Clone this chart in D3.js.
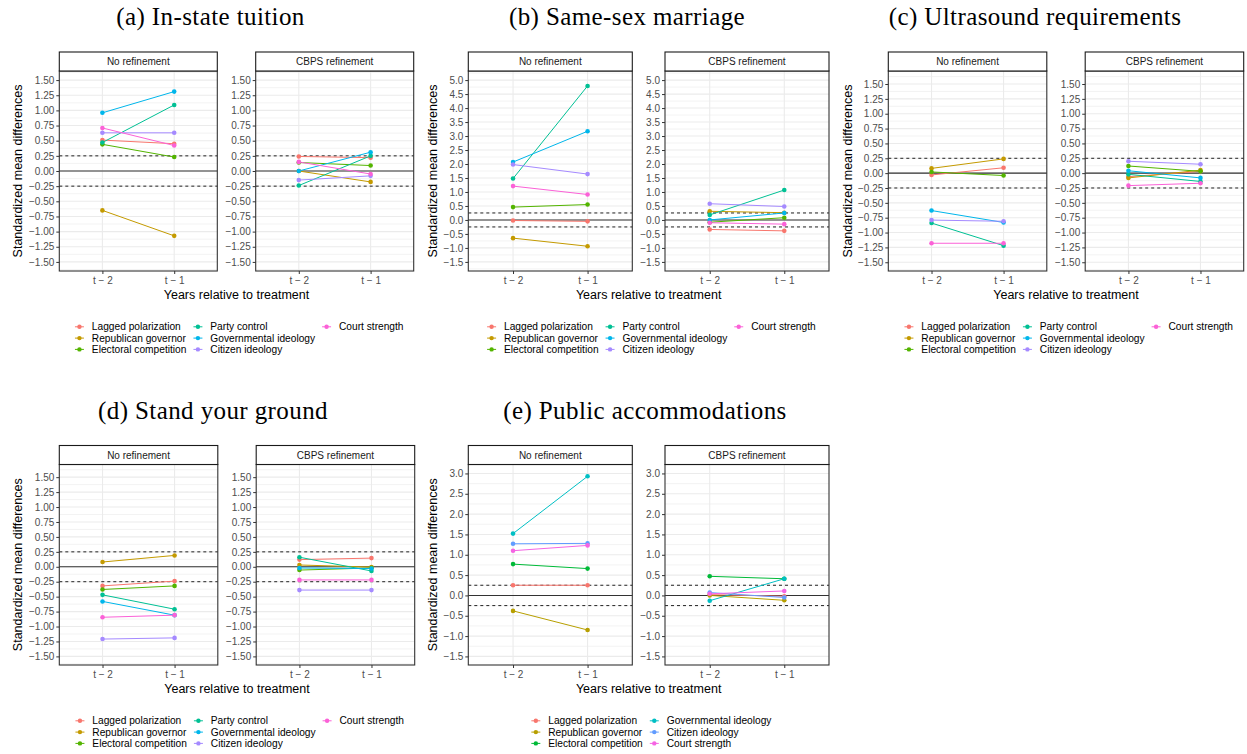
<!DOCTYPE html>
<html>
<head>
<meta charset="utf-8">
<script src="https://cdn.jsdelivr.net/npm/d3@7"></script>
<style>
  body { margin: 0; background: #fff; }
  svg { display: block; }
</style>
</head>
<body>
<svg id="fig" width="1247" height="754"></svg>
<script>
// ---- data -------------------------------------------------------------
const features7 = ["Lagged polarization", "Republican governor", "Electoral competition",
  "Party control", "Governmental ideology", "Citizen ideology", "Court strength"];
const features6 = ["Lagged polarization", "Republican governor", "Electoral competition",
  "Governmental ideology", "Citizen ideology", "Court strength"];
const colors7 = ["#F8766D", "#C49A00", "#53B400", "#00C094", "#00B6EB", "#A58AFF", "#FB61D7"];
const colors6 = ["#F8766D", "#B79F00", "#00BA38", "#00BFC4", "#619CFF", "#F564E3"];
const facetNames = ["No refinement", "CBPS refinement"];
const periods = ["t \u2212 2", "t \u2212 1"];

const ticksQuarter = [-1.5, -1.25, -1, -0.75, -0.5, -0.25, 0, 0.25, 0.5, 0.75, 1, 1.25, 1.5];
const ticksMarriage = [-1.5, -1, -0.5, 0, 0.5, 1, 1.5, 2, 2.5, 3, 3.5, 4, 4.5, 5];
const ticksAccommodations = [-1.5, -1, -0.5, 0, 0.5, 1, 1.5, 2, 2.5, 3];
const balanceBand = [-0.25, 0.25];

// each row: one covariate, values at [t − 2, t − 1]
const tuitionNone = [[0.51, 0.45], [-0.65, -1.07], [0.44, 0.23], [0.47, 1.09], [0.96, 1.31], [0.63, 0.63], [0.71, 0.42]];
const tuitionCbps = [[0.24, 0.22], [0.00, -0.18], [0.14, 0.09], [-0.24, 0.25], [0.00, 0.31], [-0.15, -0.08], [0.15, -0.05]];

const marriageNone = [[-0.02, -0.05], [-0.65, -0.94], [0.46, 0.55], [1.48, 4.79], [2.07, 3.17], [1.98, 1.64], [1.21, 0.91]];
const marriageCbps = [[-0.34, -0.39], [0.31, 0.26], [-0.08, 0.08], [0.18, 1.07], [0.00, 0.25], [0.58, 0.48], [-0.10, -0.15]];

const ultrasoundNone = [[-0.03, 0.09], [0.08, 0.24], [0.02, -0.04], [-0.84, -1.22], [-0.63, -0.83], [-0.79, -0.81], [-1.18, -1.18]];
const ultrasoundCbps = [[-0.06, 0.03], [-0.08, 0.05], [0.12, 0.03], [-0.02, -0.14], [0.04, -0.08], [0.20, 0.15], [-0.21, -0.17]];

const groundNone = [[-0.32, -0.24], [0.08, 0.19], [-0.38, -0.32], [-0.47, -0.71], [-0.58, -0.81], [-1.21, -1.19], [-0.845, -0.81]];
const groundCbps = [[0.12, 0.145], [0.03, -0.005], [-0.055, -0.02], [0.16, -0.07], [-0.02, -0.03], [-0.39, -0.39], [-0.22, -0.22]];

const accommodationsNone = [[0.25, 0.25], [-0.38, -0.85], [0.77, 0.66], [1.52, 2.93], [1.27, 1.28], [1.10, 1.23]];
const accommodationsCbps = [[0.02, -0.02], [0.00, -0.12], [0.47, 0.41], [-0.13, 0.41], [0.07, -0.05], [0.04, 0.11]];

// ---- layout -----------------------------------------------------------
const rowLayout = [
  { stripTop: 52, plotTop: 71, plotBottom: 271, titleY: 25 },
  { stripTop: 445.5, plotTop: 464.5, plotBottom: 665, titleY: 418.5 }
];

const subfigures = [
  { title: "(a) In-state tuition", titleX: 210.5, row: 0, left: 59.3, pw: 158, gap: 38.4, yTitleX: 22,
    domain: [-1.65, 1.65], ticks: ticksQuarter, digits: 2, feats: features7, colors: colors7,
    series: [tuitionNone, tuitionCbps] },
  { title: "(b) Same-sex marriage", titleX: 627, row: 0, left: 468.3, pw: 164, gap: 32.7, yTitleX: 437.3,
    domain: [-1.825, 5.325], ticks: ticksMarriage, digits: 1, feats: features7, colors: colors7,
    series: [marriageNone, marriageCbps] },
  { title: "(c) Ultrasound requirements", titleX: 1035, row: 0, left: 888.3, pw: 158.5, gap: 38.4, yTitleX: 852,
    domain: [-1.647, 1.719], ticks: ticksQuarter, digits: 2, feats: features7, colors: colors7,
    series: [ultrasoundNone, ultrasoundCbps] },
  { title: "(d) Stand your ground", titleX: 213, row: 1, left: 59.3, pw: 158.5, gap: 38.4, yTitleX: 22,
    domain: [-1.644, 1.712], ticks: ticksQuarter, digits: 2, feats: features7, colors: colors7,
    series: [groundNone, groundCbps] },
  { title: "(e) Public accommodations", titleX: 645, row: 1, left: 468.3, pw: 164, gap: 32.7, yTitleX: 437.3,
    domain: [-1.711, 3.22], ticks: ticksAccommodations, digits: 1, feats: features6, colors: colors6,
    series: [accommodationsNone, accommodationsCbps] }
];

const SANS = "'Liberation Sans', Arial, Helvetica, sans-serif";
const SERIF = "'Liberation Serif', 'Times New Roman', serif";
const fmtNum = digits => v => d3.format(`.${digits}f`)(v).replace("-", "\u2212");

const svg = d3.select("#fig");
svg.append("rect").attr("width", 1247).attr("height", 754).attr("fill", "#fff");

function measure(text, size) {
  const t = svg.append("text").attr("font-family", SANS).attr("font-size", size).text(text);
  const w = t.node().getComputedTextLength();
  t.remove();
  return w;
}

subfigures.forEach(sf => {
  const R = rowLayout[sf.row];
  const g = svg.append("g");

  // subfigure caption
  g.append("text")
    .attr("x", sf.titleX).attr("y", R.titleY)
    .attr("text-anchor", "middle")
    .attr("font-family", SERIF).attr("font-size", 25).attr("letter-spacing", 0.4).attr("fill", "#000")
    .text(sf.title);

  facetNames.forEach((facet, fi) => {
    const px = sf.left + fi * (sf.pw + sf.gap);
    const y = d3.scaleLinear().domain(sf.domain).range([R.plotBottom, R.plotTop]);
    const x = d3.scalePoint().domain(periods).range([px, px + sf.pw]).padding(0.6);
    const pg = g.append("g");

    // minor grid
    const step = sf.ticks[1] - sf.ticks[0];
    const minors = d3.range(sf.ticks[0] - step / 2, sf.ticks[sf.ticks.length - 1] + step, step)
      .filter(v => v > sf.domain[0] && v < sf.domain[1]);
    pg.selectAll(".minor").data(minors).join("line")
      .attr("x1", px).attr("x2", px + sf.pw)
      .attr("y1", d => y(d)).attr("y2", d => y(d))
      .attr("stroke", "#EBEBEB").attr("stroke-width", 0.6);
    // major grid
    pg.selectAll(".major").data(sf.ticks).join("line")
      .attr("x1", px).attr("x2", px + sf.pw)
      .attr("y1", d => y(d)).attr("y2", d => y(d))
      .attr("stroke", "#EBEBEB").attr("stroke-width", 1.1);
    pg.selectAll(".vmajor").data(periods).join("line")
      .attr("x1", d => x(d)).attr("x2", d => x(d))
      .attr("y1", R.plotTop).attr("y2", R.plotBottom)
      .attr("stroke", "#EBEBEB").attr("stroke-width", 1.1);

    // reference lines
    pg.selectAll(".band").data(balanceBand).join("line")
      .attr("x1", px).attr("x2", px + sf.pw)
      .attr("y1", d => y(d)).attr("y2", d => y(d))
      .attr("stroke", "#222").attr("stroke-width", 1).attr("stroke-dasharray", "3,3");
    pg.append("line")
      .attr("x1", px).attr("x2", px + sf.pw)
      .attr("y1", y(0)).attr("y2", y(0))
      .attr("stroke", "#333").attr("stroke-width", 1.1);

    // covariate trajectories
    const rows = sf.series[fi];
    const line = d3.line().x((d, i) => x(periods[i])).y(d => y(d));
    rows.forEach((vals, k) => {
      pg.append("path").attr("d", line(vals))
        .attr("fill", "none").attr("stroke", sf.colors[k]).attr("stroke-width", 1);
    });
    rows.forEach((vals, k) => {
      pg.selectAll(null).data(vals).join("circle")
        .attr("cx", (d, i) => x(periods[i])).attr("cy", d => y(d))
        .attr("r", 2.3).attr("fill", sf.colors[k]);
    });

    // panel border
    pg.append("rect")
      .attr("x", px).attr("y", R.plotTop).attr("width", sf.pw).attr("height", R.plotBottom - R.plotTop)
      .attr("fill", "none").attr("stroke", "#333").attr("stroke-width", 1.1);

    // facet strip
    pg.append("rect")
      .attr("x", px).attr("y", R.stripTop).attr("width", sf.pw).attr("height", R.plotTop - R.stripTop)
      .attr("fill", "#fff").attr("stroke", "#1A1A1A").attr("stroke-width", 1.1);
    pg.append("text")
      .attr("x", px + sf.pw / 2).attr("y", (R.stripTop + R.plotTop) / 2)
      .attr("dy", "0.35em").attr("text-anchor", "middle")
      .attr("font-family", SANS).attr("font-size", 10).attr("fill", "#1A1A1A")
      .text(facet);

    // axes
    const ya = pg.append("g").attr("transform", `translate(${px},0)`)
      .call(d3.axisLeft(y).tickValues(sf.ticks).tickSize(3).tickPadding(2).tickFormat(fmtNum(sf.digits)));
    const xa = pg.append("g").attr("transform", `translate(0,${R.plotBottom})`)
      .call(d3.axisBottom(x).tickSize(3).tickPadding(3));
    [ya, xa].forEach(a => {
      a.select(".domain").remove();
      a.selectAll("line").attr("stroke", "#333").attr("stroke-width", 1);
      a.selectAll("text").attr("font-family", SANS).attr("font-size", 10).attr("fill", "#4D4D4D");
    });
  });

  const areaLeft = sf.left;
  const areaRight = sf.left + 2 * sf.pw + sf.gap;
  const areaMid = (areaLeft + areaRight) / 2;

  // axis titles
  g.append("text")
    .attr("x", areaMid).attr("y", R.plotBottom + 28)
    .attr("text-anchor", "middle")
    .attr("font-family", SANS).attr("font-size", 12.5).attr("fill", "#000")
    .text("Years relative to treatment");
  g.append("text")
    .attr("transform", `translate(${sf.yTitleX},${(R.plotTop + R.plotBottom) / 2}) rotate(-90)`)
    .attr("text-anchor", "middle")
    .attr("font-family", SANS).attr("font-size", 12.5).attr("fill", "#000")
    .text("Standardized mean differences");

  // legend: three entries per column
  const perCol = 3;
  const legFont = 10.2;
  const nCols = Math.ceil(sf.feats.length / perCol);
  const colW = d3.range(nCols).map(c =>
    d3.max(sf.feats.slice(c * perCol, c * perCol + perCol), f => measure(f, legFont)));
  const textOff = 12.4, colGap = 11.5;
  const colX = [0];
  for (let c = 1; c < nCols; c++) colX.push(colX[c - 1] + textOff + colW[c - 1] + colGap);
  const legW = 6 + colX[nCols - 1] + textOff + colW[nCols - 1];
  const legStart = areaMid + 2 - legW / 2 + 6;
  const leg = g.append("g");
  sf.feats.forEach((f, k) => {
    const c = Math.floor(k / perCol), r = k % perCol;
    const kx = legStart + colX[c];
    const ky = R.plotBottom + 55.8 + r * 11.3;
    leg.append("line").attr("x1", kx - 4.5).attr("x2", kx + 4.5).attr("y1", ky).attr("y2", ky)
      .attr("stroke", sf.colors[k]).attr("stroke-width", 1);
    leg.append("circle").attr("cx", kx).attr("cy", ky).attr("r", 2.2).attr("fill", sf.colors[k]);
    leg.append("text").attr("x", kx + textOff).attr("y", ky).attr("dy", "0.35em")
      .attr("font-family", SANS).attr("font-size", legFont).attr("fill", "#000").text(f);
  });
});
</script>
</body>
</html>
